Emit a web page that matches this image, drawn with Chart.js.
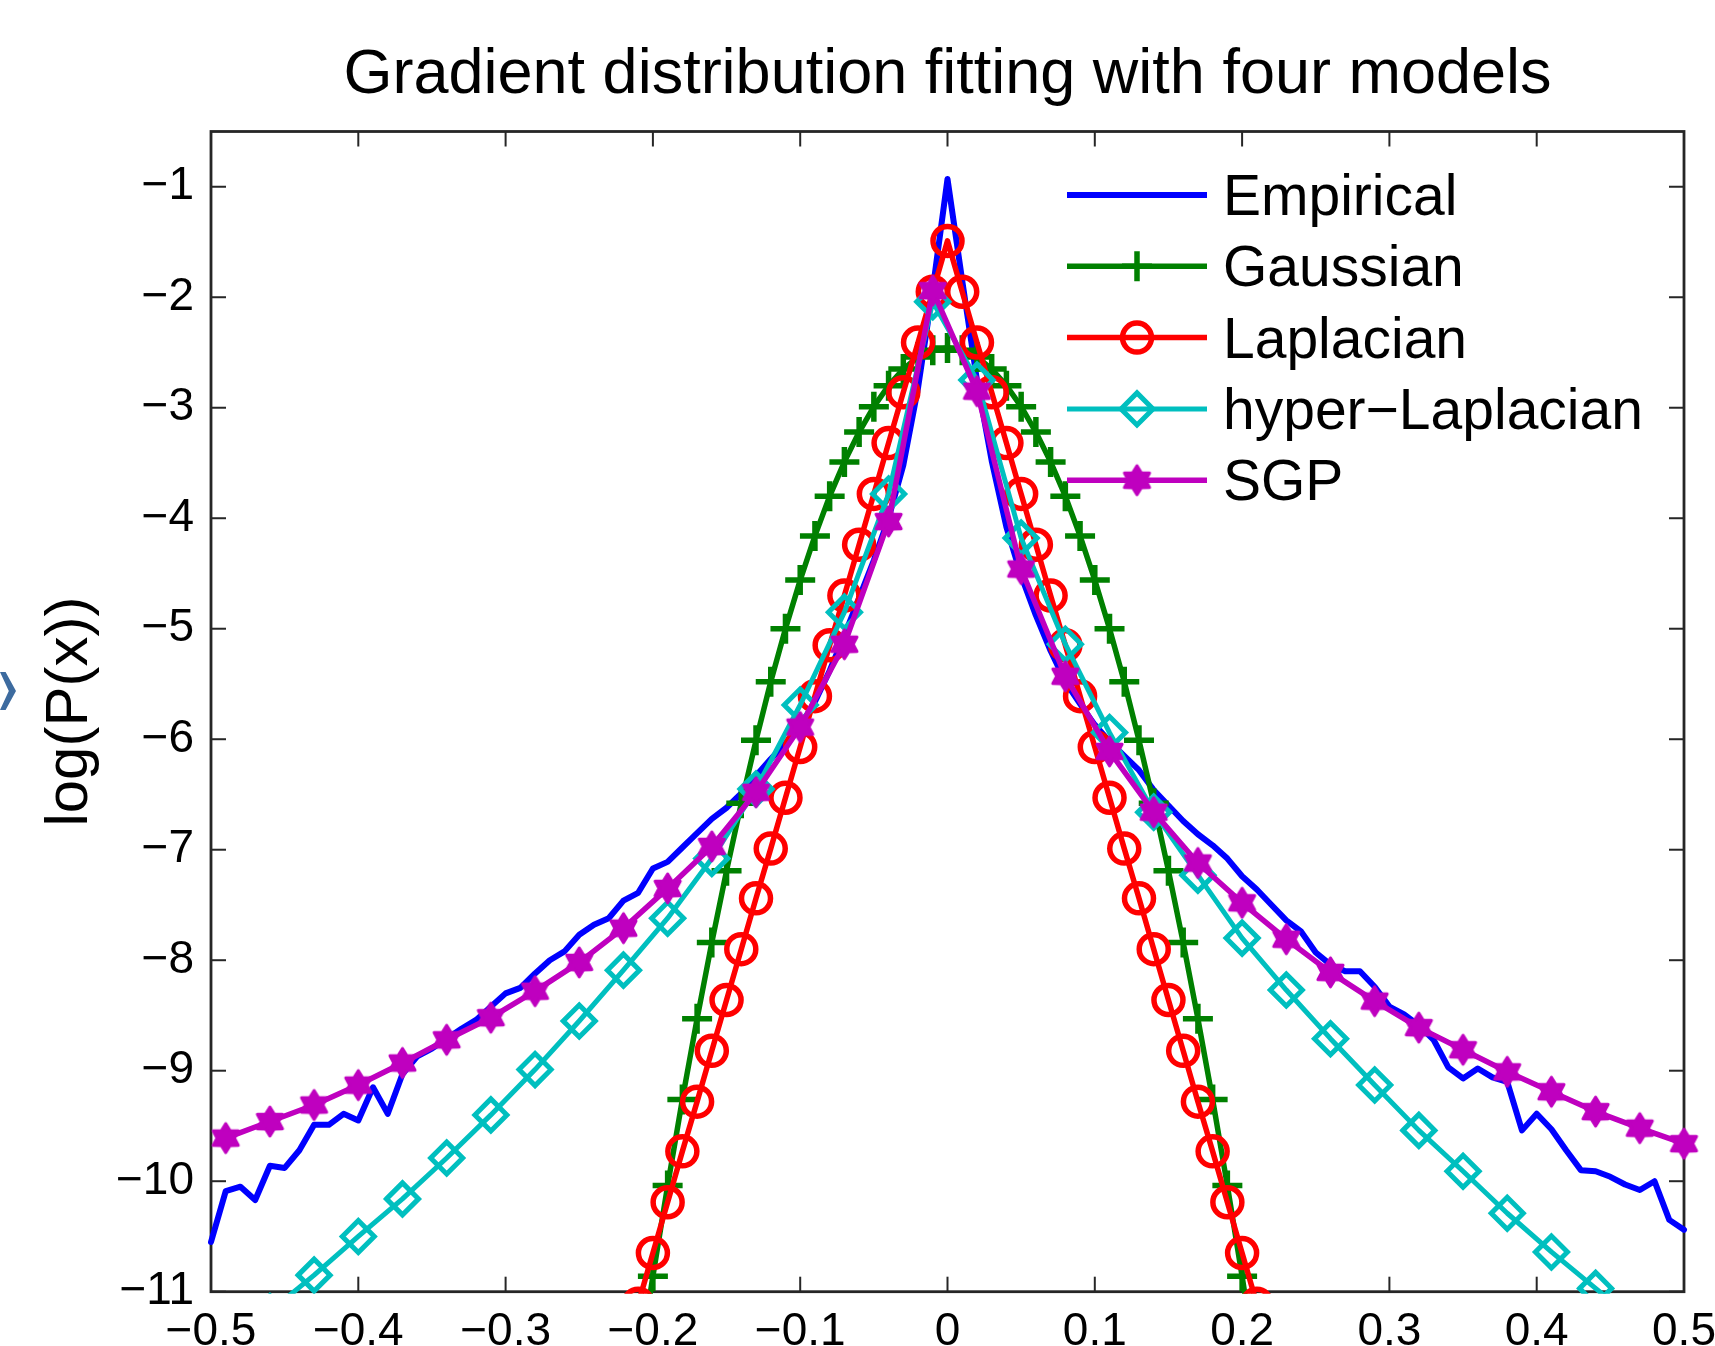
<!DOCTYPE html>
<html>
<head>
<meta charset="utf-8">
<title>Gradient distribution fitting with four models</title>
<script src="https://cdn.jsdelivr.net/npm/chart.js@4.4.1/dist/chart.umd.min.js"></script>
<style>
  html, body { margin: 0; padding: 0; background: #fff; }
  #wrap { position: relative; width: 1715px; height: 1346px; overflow: hidden; }
  #chevron {
    position: absolute; left: 0; top: 672px; width: 16px; height: 38px;
    background: #3d6b9f;
    clip-path: polygon(0 0, 35% 0, 100% 50%, 35% 100%, 0 100%, 55% 50%);
  }
</style>
</head>
<body>
<div id="wrap">
  <canvas id="chart"></canvas>
  <div id="chevron"></div>
</div>
<script>
/* Gradient distribution fitting — empirical log-density vs four models */

var TITLE = 'Gradient distribution fitting with four models';
var Y_TITLE = 'log(P(x))';
var seriesNames = ['Empirical', 'Gaussian', 'Laplacian', 'hyper\u2212Laplacian', 'SGP'];

var xTicks = [-0.5, -0.4, -0.3, -0.2, -0.1, 0, 0.1, 0.2, 0.3, 0.4, 0.5];
var xTickLabels = ['\u22120.5', '\u22120.4', '\u22120.3', '\u22120.2', '\u22120.1', '0', '0.1', '0.2', '0.3', '0.4', '0.5'];
var yTicks = [-11, -10, -9, -8, -7, -6, -5, -4, -3, -2, -1];
var yTickLabels = ['\u221211', '\u221210', '\u22129', '\u22128', '\u22127', '\u22126', '\u22125', '\u22124', '\u22123', '\u22122', '\u22121'];

/* empirical histogram, sampled every 0.01 */
var xEmp = [-0.50, -0.49, -0.48, -0.47, -0.46, -0.45, -0.44, -0.43, -0.42, -0.41,
            -0.40, -0.39, -0.38, -0.37, -0.36, -0.35, -0.34, -0.33, -0.32, -0.31,
            -0.30, -0.29, -0.28, -0.27, -0.26, -0.25, -0.24, -0.23, -0.22, -0.21,
            -0.20, -0.19, -0.18, -0.17, -0.16, -0.15, -0.14, -0.13, -0.12, -0.11,
            -0.10, -0.09, -0.08, -0.07, -0.06, -0.05, -0.04, -0.03, -0.02, -0.01,
             0.00,
             0.01,  0.02,  0.03,  0.04,  0.05,  0.06,  0.07,  0.08,  0.09,  0.10,
             0.11,  0.12,  0.13,  0.14,  0.15,  0.16,  0.17,  0.18,  0.19,  0.20,
             0.21,  0.22,  0.23,  0.24,  0.25,  0.26,  0.27,  0.28,  0.29,  0.30,
             0.31,  0.32,  0.33,  0.34,  0.35,  0.36,  0.37,  0.38,  0.39,  0.40,
             0.41,  0.42,  0.43,  0.44,  0.45,  0.46,  0.47,  0.48,  0.49,  0.50];
var yEmp = [-10.55, -10.09, -10.05, -10.17, -9.86, -9.88, -9.72, -9.49, -9.49, -9.39,
            -9.45, -9.15, -9.39, -9.03, -8.87, -8.80, -8.71, -8.62, -8.54, -8.42,
            -8.30, -8.25, -8.12, -8.00, -7.92, -7.77, -7.68, -7.62, -7.46, -7.39,
            -7.17, -7.11, -6.98, -6.85, -6.72, -6.62, -6.49, -6.33, -6.18, -6.04,
            -5.88, -5.66, -5.38, -5.06, -4.72, -4.38, -4.00, -3.52, -2.82, -1.93,
            -0.93,
            -1.85, -2.75, -3.48, -4.08, -4.52, -4.88, -5.20, -5.48, -5.68, -5.87,
            -6.02, -6.15, -6.28, -6.46, -6.60, -6.74, -6.86, -6.96, -7.08, -7.24,
            -7.36, -7.50, -7.64, -7.74, -7.93, -8.04, -8.10, -8.10, -8.24, -8.42,
            -8.49, -8.59, -8.72, -8.97, -9.07, -8.98, -9.06, -9.10, -9.54, -9.39,
            -9.53, -9.72, -9.90, -9.91, -9.96, -10.03, -10.08, -10.00, -10.35, -10.44];

/* Gaussian and Laplacian fits, markers every 0.01 */
var xModel = [-0.21, -0.20, -0.19, -0.18, -0.17, -0.16, -0.15, -0.14, -0.13, -0.12, -0.11,
              -0.10, -0.09, -0.08, -0.07, -0.06, -0.05, -0.04, -0.03, -0.02, -0.01,
               0.00,
               0.01,  0.02,  0.03,  0.04,  0.05,  0.06,  0.07,  0.08,  0.09,  0.10,
               0.11,  0.12,  0.13,  0.14,  0.15,  0.16,  0.17,  0.18,  0.19,  0.20, 0.21];
var yGauss = [-11.72, -10.86, -10.04, -9.26, -8.53, -7.84, -7.19, -6.58, -6.01, -5.48, -5.00,
              -4.56, -4.16, -3.80, -3.49, -3.22, -2.99, -2.80, -2.65, -2.54, -2.48,
              -2.46,
              -2.48, -2.54, -2.65, -2.80, -2.99, -3.22, -3.49, -3.80, -4.16, -4.56,
              -5.00, -5.48, -6.01, -6.58, -7.19, -7.84, -8.53, -9.26, -10.04, -10.86, -11.72];
var yLaplace = [-11.11, -10.65, -10.19, -9.73, -9.28, -8.82, -8.36, -7.90, -7.44, -6.99, -6.53,
                -6.07, -5.61, -5.15, -4.70, -4.24, -3.78, -3.32, -2.86, -2.41, -1.95,
                -1.49,
                -1.95, -2.41, -2.86, -3.32, -3.78, -4.24, -4.70, -5.15, -5.61, -6.07,
                -6.53, -6.99, -7.44, -7.90, -8.36, -8.82, -9.28, -9.73, -10.19, -10.65, -11.11];

/* hyper-Laplacian and SGP fits, markers every 0.03 */
var xSparse = [-0.49, -0.46, -0.43, -0.40, -0.37, -0.34, -0.31, -0.28, -0.25, -0.22, -0.19,
               -0.16, -0.13, -0.10, -0.07, -0.04, -0.01,  0.02,  0.05,  0.08,  0.11,  0.14,
                0.17,  0.20,  0.23,  0.26,  0.29,  0.32,  0.35,  0.38,  0.41,  0.44,  0.47, 0.50];
var yHyper = [null, -11.18, -10.85, -10.50, -10.16, -9.79, -9.40, -8.99, -8.55, -8.09, -7.62,
              -7.08, -6.45, -5.69, -4.85, -3.78, -2.04, -2.75, -4.18, -5.14, -5.94, -6.66,
              -7.23, -7.80, -8.27, -8.71, -9.13, -9.54, -9.91, -10.29, -10.64, -10.97, -11.30, null];
var ySGP = [-9.61, -9.46, -9.31, -9.13, -8.93, -8.72, -8.52, -8.28, -8.02, -7.71, -7.35,
            -6.97, -6.48, -5.89, -5.14, -4.03, -1.94, -2.85, -4.46, -5.43, -6.11, -6.66,
            -7.12, -7.48, -7.81, -8.11, -8.37, -8.61, -8.81, -9.01, -9.19, -9.37, -9.52, -9.66];

var FONT = "'Liberation Sans', Arial, Helvetica, sans-serif";

function pts(xs, ys) {
  return xs.map(function (x, i) { return { x: x, y: ys[i] }; });
}

/* MATLAB 'h' marker: filled six-pointed star */
function hexagram(color, r) {
  var s = Math.ceil(r * 2 + 6);
  var c = document.createElement('canvas');
  c.width = s; c.height = s;
  var g = c.getContext('2d');
  g.translate(s / 2, s / 2);
  g.beginPath();
  for (var k = 0; k < 12; k++) {
    var a = -Math.PI / 2 + k * Math.PI / 6;
    var rr = k % 2 ? r * 0.6 : r;
    g.lineTo(rr * Math.cos(a), rr * Math.sin(a));
  }
  g.closePath();
  g.fillStyle = color; g.fill();
  g.lineJoin = 'round'; g.lineWidth = 3; g.strokeStyle = color; g.stroke();
  return c;
}

var C = { blue: '#0000ff', green: '#008000', red: '#ff0000', cyan: '#00bfbf', mag: '#bf00bf', axis: '#262626' };

function line(ctx, x0, y0, x1, y1) {
  ctx.beginPath(); ctx.moveTo(x0, y0); ctx.lineTo(x1, y1); ctx.stroke();
}

/* axes box with inward ticks on all four sides, drawn under the data */
var framePlugin = {
  id: 'frame',
  beforeDatasetsDraw: function (chart) {
    var ctx = chart.ctx, a = chart.chartArea, sx = chart.scales.x, sy = chart.scales.y;
    ctx.save();
    ctx.strokeStyle = C.axis;
    ctx.lineWidth = 2;
    sx.ticks.forEach(function (t) {
      var px = sx.getPixelForValue(t.value);
      line(ctx, px, a.bottom, px, a.bottom - 15);
      line(ctx, px, a.top, px, a.top + 15);
    });
    sy.ticks.forEach(function (t) {
      var py = sy.getPixelForValue(t.value);
      line(ctx, a.left, py, a.left + 15, py);
      line(ctx, a.right, py, a.right - 15, py);
    });
    ctx.lineWidth = 2.8;
    ctx.strokeRect(a.left, a.top, a.right - a.left, a.bottom - a.top);
    ctx.restore();
  }
};

/* title centred over the axes, legend inside the top-right corner */
var annotPlugin = {
  id: 'annot',
  afterDatasetsDraw: function (chart) {
    var ctx = chart.ctx, a = chart.chartArea;
    ctx.save();
    ctx.fillStyle = '#000';
    ctx.textAlign = 'center';
    ctx.textBaseline = 'alphabetic';
    ctx.font = '63px ' + FONT;
    ctx.fillText(TITLE, (a.left + a.right) / 2, 93);

    var x0 = 1067, x1 = 1207, xm = 1137, y0 = 195, gap = 71.3;
    chart.data.datasets.forEach(function (ds, i) {
      var yy = y0 + i * gap;
      ctx.strokeStyle = ds.borderColor;
      ctx.lineWidth = ds.borderWidth;
      line(ctx, x0, yy, x1, yy);
      if (ds.pointRadius > 0 && Chart.helpers && Chart.helpers.drawPoint) {
        ctx.strokeStyle = ds.pointBorderColor;
        ctx.fillStyle = ds.pointBackgroundColor;
        ctx.lineWidth = ds.pointBorderWidth;
        Chart.helpers.drawPoint(ctx, { pointStyle: ds.pointStyle, radius: ds.pointRadius, borderWidth: ds.pointBorderWidth, rotation: 0 }, xm, yy);
      }
      ctx.fillStyle = '#000';
      ctx.textAlign = 'left';
      ctx.font = '57px ' + FONT;
      ctx.fillText(ds.label, 1223, yy + 20);
    });
    ctx.restore();
  }
};

var clipBox = { left: 20, right: 20, top: 0, bottom: 2 };
var common = { clip: clipBox, borderJoinStyle: 'round', borderCapStyle: 'round' };

function series(o) { return Object.assign({}, common, o); }

new Chart(document.getElementById('chart'), {
  type: 'line',
  data: {
    datasets: [
      series({ label: seriesNames[0], data: pts(xEmp, yEmp), borderColor: C.blue, borderWidth: 6,
        pointRadius: 0, order: 5 }),
      series({ label: seriesNames[1], data: pts(xModel, yGauss), borderColor: C.green, borderWidth: 5.5,
        pointStyle: 'cross', pointRadius: 15, pointBorderWidth: 5.5, pointBorderColor: C.green,
        pointBackgroundColor: 'rgba(0,0,0,0)', order: 4 }),
      series({ label: seriesNames[2], data: pts(xModel, yLaplace), borderColor: C.red, borderWidth: 5.5,
        pointStyle: 'circle', pointRadius: 14.5, pointBorderWidth: 5.5, pointBorderColor: C.red,
        pointBackgroundColor: 'rgba(0,0,0,0)', order: 3 }),
      series({ label: seriesNames[3], data: pts(xSparse, yHyper), borderColor: C.cyan, borderWidth: 5,
        pointStyle: 'rectRot', pointRadius: 16, pointBorderWidth: 5, pointBorderColor: C.cyan,
        pointBackgroundColor: 'rgba(0,0,0,0)', order: 2 }),
      series({ label: seriesNames[4], data: pts(xSparse, ySGP), borderColor: C.mag, borderWidth: 5.5,
        pointStyle: hexagram(C.mag, 14.5), pointRadius: 14, pointBorderWidth: 0, pointBorderColor: C.mag,
        pointBackgroundColor: C.mag, order: 1 })
    ]
  },
  options: {
    responsive: true,
    maintainAspectRatio: false,
    animation: false,
    events: [],
    layout: { padding: { top: 131.5, right: 31, bottom: 0, left: 0 } },
    elements: { line: { tension: 0, fill: false } },
    plugins: { legend: { display: false }, title: { display: false }, tooltip: { enabled: false } },
    scales: {
      x: {
        type: 'linear', min: -0.5, max: 0.5,
        grid: { display: false }, border: { display: false },
        afterBuildTicks: function (s) { s.ticks = xTicks.map(function (v) { return { value: v }; }); },
        afterFit: function (s) { s.height = 54.3; s.paddingLeft = 0; s.paddingRight = 0; },
        ticks: {
          autoSkip: false, maxRotation: 0, padding: 5, color: '#000',
          font: { family: FONT, size: 46 },
          callback: function (v, i) { return xTickLabels[i]; }
        }
      },
      y: {
        type: 'linear', min: -11, max: -0.5,
        grid: { display: false }, border: { display: false },
        afterBuildTicks: function (s) { s.ticks = yTicks.map(function (v) { return { value: v }; }); },
        afterFit: function (s) { s.width = 211; s.paddingTop = 0; s.paddingBottom = 0; },
        ticks: {
          autoSkip: false, padding: 9, color: '#000',
          font: { family: FONT, size: 46 },
          callback: function (v, i) { return yTickLabels[i]; }
        },
        title: { display: true, text: Y_TITLE, color: '#000', padding: { top: 34, bottom: 0 },
                 font: { family: FONT, size: 60 } }
      }
    }
  },
  plugins: [framePlugin, annotPlugin]
});
</script>
</body>
</html>
